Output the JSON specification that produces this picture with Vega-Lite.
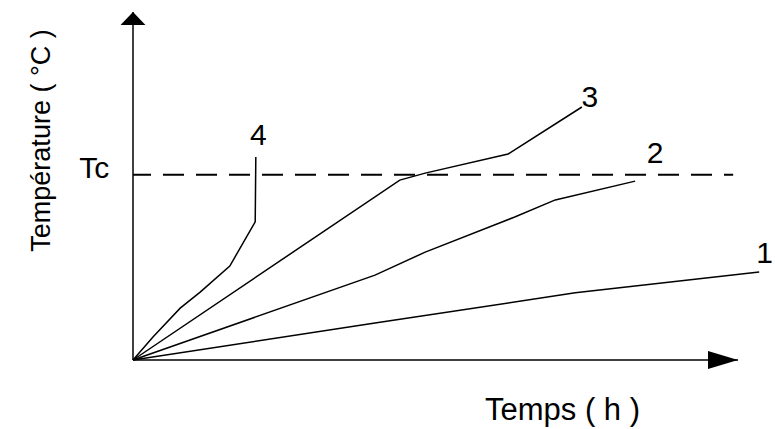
{
  "$schema": "https://vega.github.io/schema/vega-lite/v6.json",
  "autosize": "none",
  "width": 605,
  "height": 348,
  "padding": {"left": 133, "top": 12, "right": 37, "bottom": 69},
  "background": "white",
  "config": {"view": {"stroke": null}, "font": "Liberation Sans"},
  "datasets": {
    "curves": [
      {"serie": "1", "ordre": 0, "temps": 0, "temp": 0},
      {"serie": "1", "ordre": 1, "temps": 4.0, "temp": 10.6},
      {"serie": "1", "ordre": 2, "temps": 7.31, "temp": 19.3},
      {"serie": "1", "ordre": 3, "temps": 10.35, "temp": 25.3},
      {"serie": "2", "ordre": 0, "temps": 0, "temp": 0},
      {"serie": "2", "ordre": 1, "temps": 4.0, "temp": 24.4},
      {"serie": "2", "ordre": 2, "temps": 4.83, "temp": 31.0},
      {"serie": "2", "ordre": 3, "temps": 6.31, "temp": 41.1},
      {"serie": "2", "ordre": 4, "temps": 6.98, "temp": 46.0},
      {"serie": "2", "ordre": 5, "temps": 8.3, "temp": 51.4},
      {"serie": "3", "ordre": 0, "temps": 0, "temp": 0},
      {"serie": "3", "ordre": 1, "temps": 4.41, "temp": 51.7},
      {"serie": "3", "ordre": 2, "temps": 4.83, "temp": 53.7},
      {"serie": "3", "ordre": 3, "temps": 6.2, "temp": 59.2},
      {"serie": "3", "ordre": 4, "temps": 7.42, "temp": 72.7},
      {"serie": "4", "ordre": 0, "temps": 0, "temp": 0},
      {"serie": "4", "ordre": 1, "temps": 0.33, "temp": 6.6},
      {"serie": "4", "ordre": 2, "temps": 0.78, "temp": 14.9},
      {"serie": "4", "ordre": 3, "temps": 1.11, "temp": 19.5},
      {"serie": "4", "ordre": 4, "temps": 1.6, "temp": 27.0},
      {"serie": "4", "ordre": 5, "temps": 2.02, "temp": 39.7},
      {"serie": "4", "ordre": 6, "temps": 2.03, "temp": 58.3}
    ],
    "labels": [
      {"label": "1", "temps": 10.44, "temp": 27.9},
      {"label": "2", "temps": 8.63, "temp": 56.6},
      {"label": "3", "temps": 7.55, "temp": 72.7},
      {"label": "4", "temps": 2.07, "temp": 61.8},
      {"label": "Tc", "temps": -0.64, "temp": 52.3}
    ],
    "axes": [
      {"axe": "temps", "temps": 0, "temps2": 10, "temp": 0, "temp2": 0},
      {"axe": "temperature", "temps": 0, "temps2": 0, "temp": 0, "temp2": 100}
    ],
    "arrows": [
      {"dir": "up", "temps": 0, "temp": 100},
      {"dir": "right", "temps": 10, "temp": 0}
    ],
    "tc": [
      {"temps": 0, "temps2": 9.92, "temp": 53.2}
    ]
  },
  "encoding": {
    "x": {
      "field": "temps", "type": "quantitative",
      "scale": {"domain": [0, 10], "nice": false, "zero": false},
      "axis": {
        "title": "Temps ( h )", "domain": false, "ticks": false, "labels": false, "grid": false,
        "titleFont": "Liberation Sans", "titleFontSize": 31, "titleFontWeight": "normal", "titleColor": "black",
        "titleX": 429, "titleY": 59, "titleAlign": "center", "titleBaseline": "alphabetic"
      }
    },
    "y": {
      "field": "temp", "type": "quantitative",
      "scale": {"domain": [0, 100], "nice": false, "zero": false},
      "axis": {
        "title": "Température ( °C )", "domain": false, "ticks": false, "labels": false, "grid": false,
        "titleFont": "Liberation Sans", "titleFontSize": 27, "titleFontWeight": "normal", "titleColor": "black",
        "titleAngle": 270, "titleX": -84, "titleY": 128, "titleAlign": "center", "titleBaseline": "alphabetic"
      }
    }
  },
  "layer": [
    {
      "data": {"name": "tc"},
      "mark": {"type": "rule", "color": "black", "strokeWidth": 2, "strokeDash": [21, 12], "strokeDashOffset": 3},
      "encoding": {"x2": {"field": "temps2"}}
    },
    {
      "data": {"name": "curves"},
      "mark": {"type": "line", "color": "black", "interpolate": "linear"},
      "encoding": {
        "detail": {"field": "serie", "type": "nominal"},
        "order": {"field": "ordre", "type": "quantitative"},
        "strokeWidth": {"field": "serie", "type": "nominal", "scale": {"domain": ["1", "2", "3", "4"], "range": [1.5, 1.5, 1.3, 2.6]}, "legend": null}
      }
    },
    {
      "data": {"name": "axes"},
      "mark": {"type": "rule", "color": "black"},
      "encoding": {
        "x2": {"field": "temps2"},
        "y2": {"field": "temp2"},
        "strokeWidth": {"field": "axe", "type": "nominal", "scale": {"domain": ["temps", "temperature"], "range": [2, 3]}, "legend": null}
      }
    },
    {
      "data": {"name": "arrows"},
      "mark": {"type": "point", "filled": true, "color": "black", "opacity": 1, "size": 900, "strokeWidth": 0},
      "encoding": {
        "shape": {"field": "dir", "type": "nominal", "scale": {"domain": ["up", "right"], "range": ["M -0.83 0.87 L 0 0 L 0.83 0.87 Z", "M -2 -0.6 L 0 0 L -2 0.6 Z"]}, "legend": null}
      }
    },
    {
      "data": {"name": "labels"},
      "mark": {"type": "text", "font": "Liberation Sans", "fontSize": 30, "align": "center", "baseline": "alphabetic", "color": "black"},
      "encoding": {"text": {"field": "label", "type": "nominal"}}
    }
  ]
}
